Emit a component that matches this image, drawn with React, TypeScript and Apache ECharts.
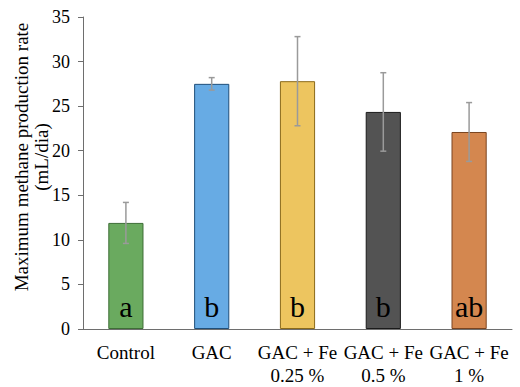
import React, { useEffect, useRef } from "react";
import * as echarts from "echarts";

const categories = ["Control", "GAC", "GAC + Fe\n0.25 %", "GAC + Fe\n0.5 %", "GAC + Fe\n1 %"];
const values = [11.9, 27.5, 27.8, 24.35, 22.1];
const errors = [2.3, 0.7, 5.0, 4.4, 3.3];
const letters = ["a", "b", "b", "b", "ab"];
const colors = ["#6aaa5f", "#67abe4", "#edc55f", "#535353", "#d4874f"];
const borders = ["#3e6e36", "#1f4f7a", "#8a6a1a", "#1a1a1a", "#7a4420"];
const yTicks = { min: 0, max: 35, interval: 5 };
const yTitle = "Maximum methane production rate\n(mL/dia)";

const FONT = "serif";

export default function App() {
  const ref = useRef<HTMLDivElement>(null);
  useEffect(() => {
    document.body.style.margin = "0";
    const chart = echarts.init(ref.current!, null, { renderer: "svg" });
    chart.setOption({
      animation: false,
      grid: { left: 83, right: 8, top: 17, bottom: 57 },
      graphic: [
        {
          type: "text",
          x: 31,
          y: 157,
          rotation: Math.PI / 2,
          style: {
            text: yTitle,
            fill: "#000",
            fontFamily: FONT,
            fontSize: 19,
            lineHeight: 20,
            align: "center",
            verticalAlign: "middle",
          },
        },
      ],
      xAxis: {
        type: "category",
        data: categories,
        axisTick: { show: false },
        axisLine: { lineStyle: { color: "#6e6e6e", width: 1 } },
        axisLabel: { color: "#000", fontFamily: FONT, fontSize: 19, margin: 12, lineHeight: 23, interval: 0 },
      },
      yAxis: {
        type: "value",
        min: yTicks.min,
        max: yTicks.max,
        interval: yTicks.interval,
        splitLine: { show: false },
        axisLine: { show: true, lineStyle: { color: "#6e6e6e", width: 1 } },
        axisTick: { show: true, length: 5, lineStyle: { color: "#6e6e6e" } },
        axisLabel: { color: "#000", fontFamily: FONT, fontSize: 18, margin: 13 },
      },
      series: [
        {
          type: "bar",
          barWidth: "41%",
          data: values.map((v, i) => ({
            value: v,
            itemStyle: { color: colors[i], borderColor: borders[i], borderWidth: 1 },
          })),
          label: {
            show: true,
            position: "insideBottom",
            distance: 8,
            formatter: (p: any) => letters[p.dataIndex],
            color: "#000",
            fontFamily: FONT,
            fontSize: 30,
          },
        },
        {
          type: "custom",
          data: values.map((v, i) => [i, v, errors[i]]),
          z: 10,
          renderItem: (params: any, api: any) => {
            const x = api.value(0);
            const v = api.value(1);
            const e = api.value(2);
            const top = api.coord([x, v + e]);
            const bot = api.coord([x, v - e]);
            const cap = 3;
            const style = { stroke: "#9a9a9a", lineWidth: 1.5 };
            return {
              type: "group",
              children: [
                { type: "line", shape: { x1: top[0], y1: top[1], x2: bot[0], y2: bot[1] }, style },
                { type: "line", shape: { x1: top[0] - cap, y1: top[1], x2: top[0] + cap, y2: top[1] }, style },
                { type: "line", shape: { x1: bot[0] - cap, y1: bot[1], x2: bot[0] + cap, y2: bot[1] }, style },
              ],
            };
          },
        },
      ],
    });
    return () => chart.dispose();
  }, []);
  return <div ref={ref} style={{ width: 520, height: 387 }} />;
}
